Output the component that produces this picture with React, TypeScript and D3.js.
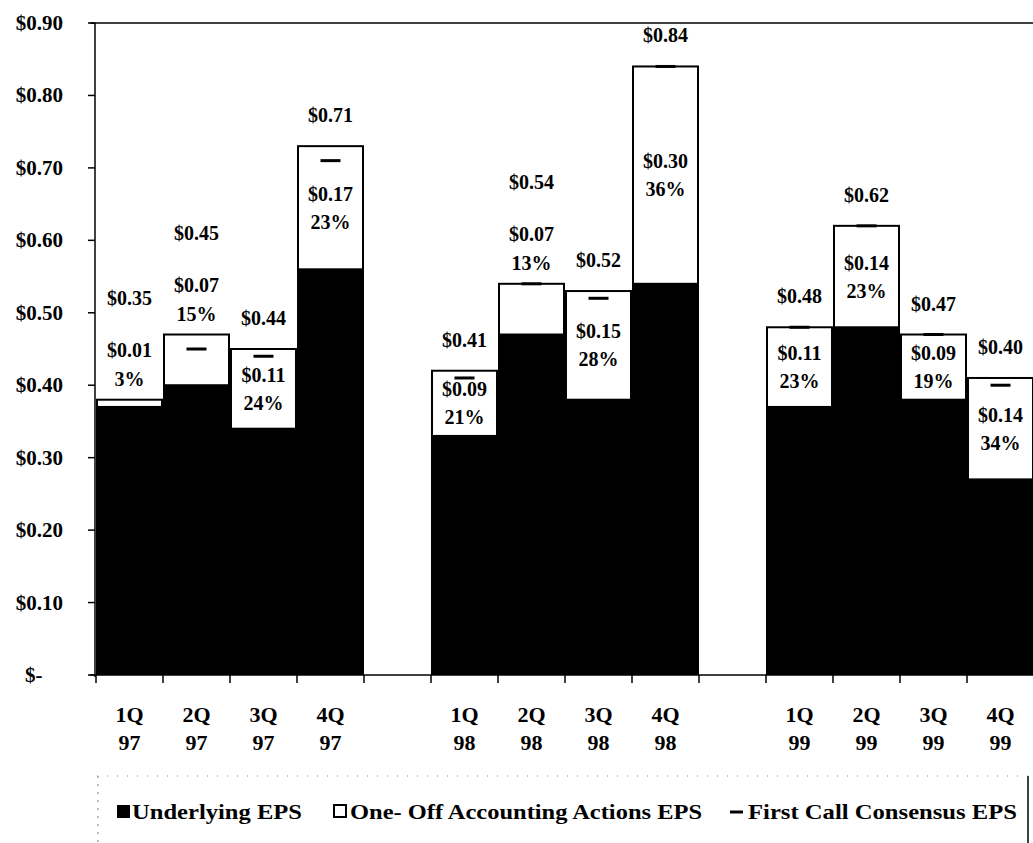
import React from "react";
import * as d3 from "d3";

const quarters = ["1Q", "2Q", "3Q", "4Q", "1Q", "2Q", "3Q", "4Q", "1Q", "2Q", "3Q", "4Q"];
const years = ["97", "97", "97", "97", "98", "98", "98", "98", "99", "99", "99", "99"];
const underlying = [0.37, 0.40, 0.34, 0.56, 0.33, 0.47, 0.38, 0.54, 0.37, 0.48, 0.38, 0.27];
const oneOff = [0.01, 0.07, 0.11, 0.17, 0.09, 0.07, 0.15, 0.30, 0.11, 0.14, 0.09, 0.14];
const oneOffPct = ["3%", "15%", "24%", "23%", "21%", "13%", "28%", "36%", "23%", "23%", "19%", "34%"];
const consensus = [0.35, 0.45, 0.44, 0.71, 0.41, 0.54, 0.52, 0.84, 0.48, 0.62, 0.47, 0.40];
const yTicks = [0, 0.1, 0.2, 0.3, 0.4, 0.5, 0.6, 0.7, 0.8, 0.9];
const legendLabels = ["Underlying EPS", "One- Off Accounting Actions EPS", "First Call Consensus EPS"];

const W = 1033;
const H = 843;
const FONT = "'Liberation Serif', 'Times New Roman', serif";

export default function App() {
  const slotIds: string[] = [];
  quarters.forEach((q, i) => {
    if (i === 4) slotIds.push("gap1");
    if (i === 8) slotIds.push("gap2");
    slotIds.push("c" + i);
  });
  const x = d3.scaleBand<string>().domain(slotIds).range([96, 96 + 67 * 14]).padding(0);
  const y = d3.scaleLinear().domain([0, 0.9]).range([675, 23]);
  const bw = x.bandwidth();
  const fmt = (v: number) => "$" + d3.format(".2f")(v).replace(/^0/, "0");

  return (
    <svg width={W} height={H} style={{ position: "absolute", left: 0, top: 0, background: "#fff" }} fontFamily={FONT} fontWeight="bold">
      <defs>
        <clipPath id="clip">
          <rect x={0} y={0} width={W} height={H} />
        </clipPath>
      </defs>
      {/* top border */}
      <line x1={90} x2={W} y1={y(0.9)} y2={y(0.9)} stroke="#000" strokeWidth={1.5} />
      {/* bars */}
      {underlying.map((u, i) => {
        const x0 = x("c" + i) as number;
        const total = u + oneOff[i];
        return (
          <g key={"b" + i}>
            <rect x={x0} y={y(u)} width={bw} height={y(0) - y(u)} fill="#000" />
            <rect x={x0 + 1} y={y(total)} width={bw - 2} height={y(u) - y(total)} fill="#fff" stroke="#000" strokeWidth={2} />
          </g>
        );
      })}
      {/* consensus markers */}
      {consensus.map((c, i) => {
        const cx = (x("c" + i) as number) + bw / 2;
        return <line key={"m" + i} x1={cx - 10} x2={cx + 10} y1={y(c)} y2={y(c)} stroke="#000" strokeWidth={3} />;
      })}
      {/* labels */}
      {underlying.map((u, i) => {
        const cx = (x("c" + i) as number) + bw / 2;
        const total = u + oneOff[i];
        const top = y(total);
        const inside = oneOff[i] >= 0.08;
        let l1: number, l2: number, cl: number;
        if (inside) {
          const mid = (y(u) + top) / 2;
          l1 = mid - 14;
          l2 = mid + 14;
          cl = top - 31;
        } else {
          l1 = top - 50;
          l2 = top - 21;
          cl = top - 102;
        }
        return (
          <g key={"l" + i} fontSize={20} textAnchor="middle" dominantBaseline="central">
            <text x={cx} y={l1}>{fmt(oneOff[i])}</text>
            <text x={cx} y={l2}>{oneOffPct[i]}</text>
            <text x={cx} y={cl}>{fmt(consensus[i])}</text>
          </g>
        );
      })}
      {/* y axis */}
      <line x1={95} x2={95} y1={y(0.9)} y2={y(0) + 2} stroke="#000" strokeWidth={1.5} />
      {yTicks.map((t) => (
        <g key={"y" + t}>
          <line x1={88} x2={95} y1={y(t)} y2={y(t)} stroke="#000" strokeWidth={1.5} />
          {t === 0 ? (
            <text x={25} y={y(t)} fontSize={21} dominantBaseline="central">$-</text>
          ) : (
            <text x={63} y={y(t)} fontSize={21} textAnchor="end" dominantBaseline="central">{fmt(t)}</text>
          )}
        </g>
      ))}
      {/* x axis */}
      <line x1={90} x2={W} y1={y(0)} y2={y(0)} stroke="#000" strokeWidth={1.5} />
      {slotIds.map((s) => (
        <line key={"t" + s} x1={x(s) as number} x2={x(s) as number} y1={y(0)} y2={y(0) + 8} stroke="#000" strokeWidth={1.5} />
      ))}
      {quarters.map((q, i) => {
        const cx = (x("c" + i) as number) + bw / 2;
        return (
          <g key={"x" + i} fontSize={22} textAnchor="middle" dominantBaseline="central">
            <text x={cx} y={714}>{q}</text>
            <text x={cx} y={742}>{years[i]}</text>
          </g>
        );
      })}
      {/* legend */}
      <line x1={97} x2={1028} y1={776} y2={776} stroke="#888" strokeWidth={1} strokeDasharray="1 9" />
      <line x1={98} x2={98} y1={776} y2={H} stroke="#777" strokeWidth={1} strokeDasharray="2 6" />
      <line x1={1028} x2={1028} y1={776} y2={H} stroke="#000" strokeWidth={1.5} />
      <rect x={117} y={805} width={13} height={13} fill="#000" />
      <text x={132} y={812} fontSize={21} dominantBaseline="central" textLength={170} lengthAdjust="spacingAndGlyphs">{legendLabels[0]}</text>
      <rect x={334} y={805} width={12} height={12} fill="#fff" stroke="#000" strokeWidth={2} />
      <text x={350} y={812} fontSize={21} dominantBaseline="central" textLength={352} lengthAdjust="spacingAndGlyphs">{legendLabels[1]}</text>
      <line x1={730} x2={743} y1={812} y2={812} stroke="#000" strokeWidth={3} />
      <text x={748} y={812} fontSize={21} dominantBaseline="central" textLength={269} lengthAdjust="spacingAndGlyphs">{legendLabels[2]}</text>
    </svg>
  );
}
